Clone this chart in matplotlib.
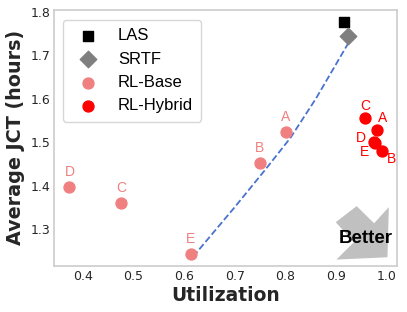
import matplotlib
matplotlib.use('Agg')
import numpy as np
from matplotlib import pyplot as plt
from matplotlib.patches import Polygon

# data
las_util, las_jct = [0.916], [1.778]
srtf_util, srtf_jct = [0.924], [1.746]

base_names = ['A', 'B', 'C', 'D', 'E']
base_util = [0.801, 0.749, 0.476, 0.374, 0.613]
base_jct = [1.523, 1.451, 1.360, 1.397, 1.241]

hybrid_names = ['A', 'B', 'C', 'D', 'E']
hybrid_util = [0.980, 0.990, 0.957, 0.974, 0.976]
hybrid_jct = [1.528, 1.480, 1.556, 1.500, 1.497]

# dashed frontier curve
front_util = [0.618, 0.700, 0.760, 0.810, 0.860, 0.924]
front_jct = [1.236, 1.350, 1.436, 1.510, 1.600, 1.728]

# label offsets in pixels (dx, dy)
base_offsets = [(0, 15), (0, 15), (0, 15), (0, 15), (0, 15)]
hybrid_offsets = [(6, 12), (10, -8), (0, 12), (-13, 4), (-10, -9)]


def main():
    fig = plt.figure(figsize=(4.07, 3.12), dpi=100)
    ax = fig.add_axes([0.1334, 0.1484, 0.8413, 0.8196])

    ax.plot(front_util, front_jct, linestyle='--', color='#4a72d0', linewidth=1.3, zorder=2)

    ax.scatter(las_util, las_jct, marker='s', s=55, color='black', label='LAS', zorder=3)
    ax.scatter(srtf_util, srtf_jct, marker='D', s=70, color='#7f7f7f', label='SRTF', zorder=3)
    ax.scatter(base_util, base_jct, marker='o', s=62, color='#f08080', label='RL-Base', zorder=3)
    ax.scatter(hybrid_util, hybrid_jct, marker='o', s=62, color='red', label='RL-Hybrid', zorder=3)

    for name, x, y, off in zip(base_names, base_util, base_jct, base_offsets):
        ax.annotate(name, (x, y), xytext=off, textcoords='offset pixels',
                    ha='center', va='center', color='#f08080', fontsize=10,
                    family='Liberation Sans')
    for name, x, y, off in zip(hybrid_names, hybrid_util, hybrid_jct, hybrid_offsets):
        ax.annotate(name, (x, y), xytext=off, textcoords='offset pixels',
                    ha='center', va='center', color='red', fontsize=10,
                    family='Liberation Sans')

    # "Better" arrow pointing to the lower right
    arrow = Polygon([(0.883, 0.233), (0.934, 0.166), (0.977, 0.229), (0.973, 0.033),
                     (0.824, 0.024), (0.875, 0.092), (0.822, 0.170)],
                    closed=True, transform=ax.transAxes, facecolor='#c0c0c0',
                    edgecolor='none', zorder=1)
    ax.add_patch(arrow)
    ax.text(0.909, 0.105, 'Better', transform=ax.transAxes, ha='center', va='center',
            fontsize=13.5, fontweight='bold', family='Liberation Sans', zorder=4)

    ax.set_xlim(0.344, 1.0197)
    ax.set_ylim(1.215, 1.805)
    ax.set_xticks([0.4, 0.5, 0.6, 0.7, 0.8, 0.9, 1.0])
    ax.set_yticks([1.3, 1.4, 1.5, 1.6, 1.7, 1.8])
    ax.tick_params(length=0, labelsize=9, labelcolor='#262626', pad=3)
    for sp in ax.spines.values():
        sp.set_color('#cccccc')
        sp.set_linewidth(1.2)

    ax.set_xlabel('Utilization', fontsize=13.5, fontweight='bold', color='#262626', labelpad=2)
    ax.set_ylabel('Average JCT (hours)', fontsize=13.8, fontweight='bold', color='#262626', labelpad=4)

    ax.legend(loc='upper left', bbox_to_anchor=(0.025, 0.961), borderaxespad=0,
              prop={'family': 'Liberation Sans', 'size': 12},
              frameon=True, edgecolor='#cccccc', fancybox=True, labelspacing=0.5,
              handletextpad=0.8, borderpad=0.5, scatterpoints=1)

    fig.savefig('out.png', dpi=100)


if __name__ == '__main__':
    main()
